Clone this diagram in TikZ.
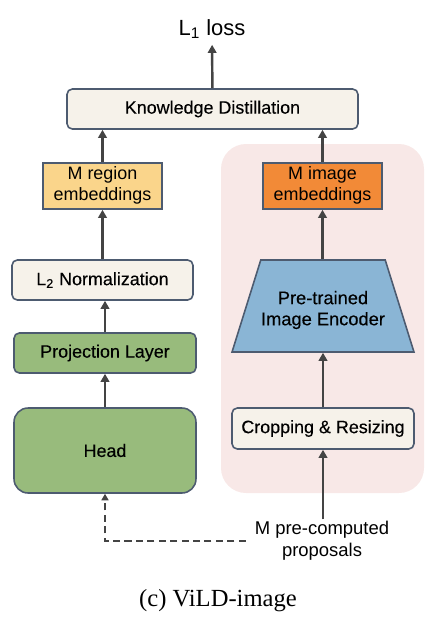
\documentclass[tikz,border=0pt]{standalone}
\usepackage{fontspec}
\setmainfont{Liberation Sans}
\newfontfamily\boxfont{Liberation Sans}[BoldFeatures={FakeBold=0.25}, BoldFont=Liberation Sans]
\newfontfamily\captionfont{Liberation Serif}
\definecolor{boxline}{RGB}{77, 91, 112}
\definecolor{cream1}{RGB}{246, 242, 234}
\definecolor{yellow1}{RGB}{250, 213, 139}
\definecolor{orange1}{RGB}{242, 138, 55}
\definecolor{green1}{RGB}{152, 187, 124}
\definecolor{blue1}{RGB}{138, 181, 213}
\definecolor{pink1}{RGB}{248, 232, 231}
\definecolor{arrowgray}{RGB}{68, 68, 68}
\usetikzlibrary{shapes.geometric, arrows.meta, positioning}

\tikzset{
  block/.style={draw=boxline, line width=0.9pt, rounded corners=3pt, align=center, font=\boxfont\bfseries\fontsize{10.2}{12}\selectfont, inner sep=2pt},
  embbox/.style={draw=boxline, line width=0.9pt, align=center, font=\fontsize{10.2}{11.8}\selectfont, inner sep=1pt, text depth=3pt},
  arr/.style={-{Triangle[length=1.6mm, width=1.7mm]}, line width=1.4pt, arrowgray},
}

\begin{document}
\begin{tikzpicture}[x=0.02cm, y=-0.02cm]
  \useasboundingbox (0, 0) rectangle (438, 623);

  % image branch background
  \fill[pink1, rounded corners=0.5cm] (221, 144) rectangle (424, 493);

  % shared top
  \node[font=\fontsize{12.5}{14}\selectfont] (loss) at (212, 29) {L\textsubscript{1} loss};
  \node[block, fill=cream1, minimum width=5.82cm, minimum height=0.8cm] (kd) at (212.5, 109) {Knowledge Distillation};

  % region branch
  \node[embbox, fill=yellow1, minimum width=2.38cm, minimum height=0.92cm] (regemb) at (102.5, 186) {M region\\embeddings};
  \node[block, fill=cream1, minimum width=3.62cm, minimum height=0.8cm] (l2norm) at (102.5, 280) {L\textsubscript{2} Normalization};
  \node[block, fill=green1, minimum width=3.64cm, minimum height=0.8cm] (proj) at (105, 353) {Projection Layer};
  \node[block, fill=green1, rounded corners=8pt, minimum width=3.64cm, minimum height=1.7cm] (head) at (105, 450.5) {Head};

  % image branch
  \node[embbox, fill=orange1, minimum width=2.38cm, minimum height=0.92cm] (imgemb) at (322.5, 186) {M image\\embeddings};
  \node[trapezium, trapezium stretches=true, trapezium left angle=77, trapezium right angle=77, draw=boxline, line width=0.9pt, fill=blue1, minimum width=3.64cm, minimum height=1.84cm] (encoder) at (323, 306) {};
  \node[align=center, font=\boxfont\bfseries\fontsize{10.4}{12}\selectfont] (enclabel) at (323, 310) {Pre-trained\\Image Encoder};
  \node[block, fill=cream1, minimum width=3.64cm, minimum height=0.82cm] (crop) at (323, 428.5) {Cropping \& Resizing};
  \node[align=center, font=\fontsize{10.5}{12.5}\selectfont, inner sep=1pt] (props) at (322, 541) {M pre-computed\\proposals};

  % connectors
  \draw[arr] (kd) -- (loss);
  \draw[arr] (regemb.north) -- (regemb.north |- kd.south);
  \draw[arr] (imgemb.north) -- (imgemb.north |- kd.south);
  \draw[arr] (l2norm) -- (regemb);
  \draw[arr] (proj) -- (l2norm.south -| proj.north);
  \draw[arr] (head) -- (proj);
  \draw[arr] (encoder.north -| imgemb.south) -- (imgemb);
  \draw[arr] (crop) -- (encoder.south -| crop.north);
  \draw[arr] (props.north -| crop.south) -- (crop);
  \draw[-{Triangle[length=1.3mm, width=1.4mm]}, line width=0.9pt, arrowgray, dash pattern=on 4pt off 2.5pt] ([xshift=-4pt]props.west) -| (head.south);

  % caption
  \node[font=\captionfont\fontsize{14}{16}\selectfont] (caption) at (218, 601) {(c) ViLD-image};
\end{tikzpicture}
\end{document}
